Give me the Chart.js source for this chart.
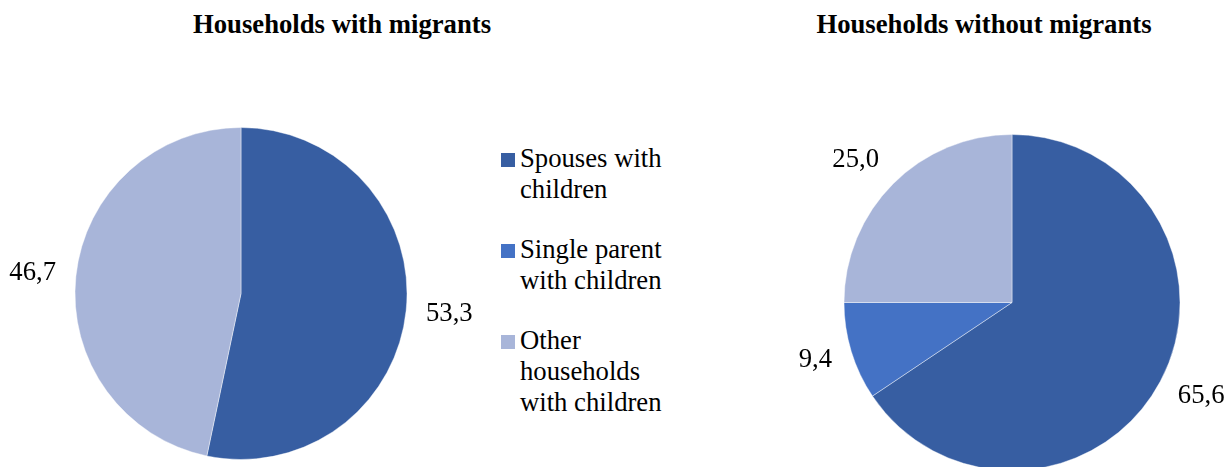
<!DOCTYPE html>
<html>
<head>
<meta charset="utf-8">
<script src="https://cdn.jsdelivr.net/npm/chart.js@4.4.1/dist/chart.umd.min.js"></script>
<style>
    html, body { margin: 0; padding: 0; background: #fff; overflow: hidden; }
    body { width: 1225px; height: 467px; position: relative; font-family: "Liberation Serif", "Times New Roman", serif; }
    canvas { position: absolute; top: 0; }
    .title { position: absolute; top: 9px; width: 500px; text-align: center; font-weight: bold; font-size: 26.7px; line-height: 31px; color: #000; }
    .legend { position: absolute; left: 501px; top: 143px; font-size: 26.7px; line-height: 31px; color: #000; }
    .item { position: relative; padding-left: 19px; margin-bottom: 29px; }
    .item .box { position: absolute; left: 0; top: 10px; width: 14px; height: 14px; }
</style>
</head>
<body>
<div class="title" id="titleLeft" style="left: 92px;"></div>
<div class="title" id="titleRight" style="left: 734px;"></div>
<canvas id="pieLeft" width="482" height="587" style="left: 0px;"></canvas>
<canvas id="pieRight" width="464" height="605" style="left: 780px;"></canvas>
<div class="legend" id="legend"></div>
<script>
// chart data
const categories = ["Spouses with children", "Single parent with children", "Other households with children"]
const legendLines = [["Spouses with", "children"], ["Single parent", "with children"], ["Other", "households", "with children"]]
const withMigrants = [53.3, 0, 46.7]
const withoutMigrants = [65.6, 9.4, 25.0]
const titles = ["Households with migrants", "Households without migrants"]
const colors = ["#375EA2", "#4472C5", "#A8B5D9"]

document.querySelector("#titleLeft").innerText = titles[0]
document.querySelector("#titleRight").innerText = titles[1]

// legend in the middle
const legendDiv = document.querySelector("#legend")
for (let i = 0; i < categories.length; i++) {
    const item = document.createElement("div")
    item.className = "item"
    const box = document.createElement("span")
    box.className = "box"
    box.style.background = colors[i]
    item.appendChild(box)
    item.innerHTML += legendLines[i].join("<br>")
    legendDiv.appendChild(item)
}

// value labels outside each slice, box corner touching a point just past the edge
const outsideLabels = {
    id: "outsideLabels",
    afterDatasetsDraw(chart) {
        const ctx = chart.ctx
        const meta = chart.getDatasetMeta(0)
        const values = chart.data.datasets[0].data
        ctx.save()
        ctx.font = "26.7px 'Liberation Serif', serif"
        ctx.fillStyle = "#000"
        ctx.textAlign = "center"
        ctx.textBaseline = "middle"
        meta.data.forEach((arc, i) => {
            if (!values[i]) return
            const p = arc.getProps(["x", "y", "startAngle", "endAngle", "outerRadius"], true)
            const mid = (p.startAngle + p.endAngle) / 2
            const dx = Math.cos(mid)
            const dy = Math.sin(mid)
            const m = Math.max(Math.abs(dx), Math.abs(dy))
            const text = values[i].toFixed(1).replace(".", ",")
            const w = ctx.measureText(text).width
            const d = p.outerRadius + 20
            const x = p.x + dx * d + (dx / m) * w / 2
            const y = p.y + dy * d + (dy / m) * 10
            ctx.fillText(text, x, y)
        })
        ctx.restore()
    }
}

function makePie(id, values, radius) {
    const ctx = document.getElementById(id)
    return new Chart(ctx, {
        type: "pie",
        data: {
            labels: categories,
            datasets: [{
                data: values,
                backgroundColor: colors,
                borderColor: "rgba(255,255,255,0.7)",
                borderWidth: 0.6
            }]
        },
        options: {
            responsive: false,
            animation: false,
            radius: radius,
            layout: { padding: 0 },
            plugins: {
                legend: { display: false },
                tooltip: { enabled: false },
                title: { display: false }
            }
        },
        plugins: [outsideLabels]
    })
}

makePie("pieLeft", withMigrants, 166)
makePie("pieRight", withoutMigrants, 168)
</script>
</body>
</html>
